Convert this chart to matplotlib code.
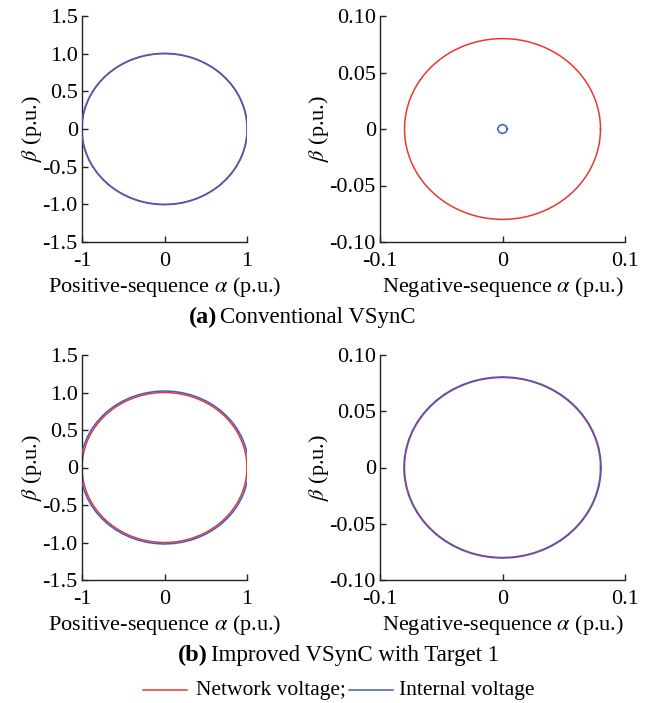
import numpy as np
import matplotlib
matplotlib.use("Agg")
import matplotlib.pyplot as plt
from matplotlib.lines import Line2D

plt.rcParams['font.family'] = ['Liberation Serif', 'DejaVu Serif']
plt.rcParams['mathtext.fontset'] = 'stix'

# ---- data (radii, p.u.) ----
pos_network_radius_a = 1.0
pos_internal_radius_a = 1.005
neg_network_radius_a = 0.080
neg_internal_radius_a = 0.004
pos_network_radius_b = 1.0
pos_internal_radius_b = 1.02
neg_network_radius_b = 0.080
neg_internal_radius_b = 0.0805
# number of samples in the recorded trajectories
network_samples = 200
internal_samples = 60
small_internal_samples = 8

pos_ticks = [-1.5, -1.0, -0.5, 0, 0.5, 1.0, 1.5]
pos_ticklabels = ['-1.5', '-1.0', '-0.5', '0', '0.5', '1.0', '1.5']
pos_xticks = [-1, 0, 1]
pos_xticklabels = ['-1', '0', '1']
neg_yticks = [-0.10, -0.05, 0, 0.05, 0.10]
neg_yticklabels = ['-0.10', '-0.05', '0', '0.05', '0.10']
neg_xticks = [-0.1, 0, 0.1]
neg_xticklabels = ['-0.1', '0', '0.1']

RED = '#e8392c'
BLUE = '#4659c4'


def circle(r, n):
    th = np.linspace(0, 2 * np.pi, n + 1)
    return r * np.cos(th), r * np.sin(th)


W, H = 648, 703
fig = plt.figure(figsize=(W / 100, H / 100), dpi=100)


def make_ax(l, r, t, b):
    return fig.add_axes([l / W, 1 - b / H, (r - l) / W, (b - t) / H])


TICK_FS = 16
LABEL_FS = 16


def style(ax, xt, xtl, yt, ytl, xlim, ylim, xlabel):
    ax.set_xlim(*xlim)
    ax.set_ylim(*ylim)
    ax.set_xticks(xt)
    ax.set_xticklabels(xtl)
    ax.set_yticks(yt)
    ax.set_yticklabels(ytl)
    for s in ['top', 'right']:
        ax.spines[s].set_visible(False)
    for s in ['left', 'bottom']:
        ax.spines[s].set_linewidth(1.0)
        ax.spines[s].set_color('#222222')
    ax.tick_params(direction='in', length=4, width=1.0, labelsize=TICK_FS,
                   colors='#222222', labelcolor='black')
    ax.tick_params(axis='y', pad=3)
    ax.tick_params(axis='x', pad=7)
    ax.set_xlabel(xlabel, fontsize=LABEL_FS, labelpad=3)
    ax.set_ylabel(r'$\beta$ (p.u.)', fontsize=LABEL_FS, labelpad=-1)


panels = [
    (16, 242, pos_network_radius_a, pos_internal_radius_a, neg_network_radius_a, neg_internal_radius_a, small_internal_samples),
    (355, 580, pos_network_radius_b, pos_internal_radius_b, neg_network_radius_b, neg_internal_radius_b, internal_samples),
]

LW = 1.1
for top, bot, pn, pi, nn, ni, nsamp in panels:
    ax1 = make_ax(82, 247, top, bot)
    x, y = circle(pn, network_samples)
    ax1.plot(x, y, color=RED, lw=LW, zorder=2)
    x, y = circle(pi, internal_samples)
    ax1.plot(x, y, color=BLUE, lw=LW, zorder=3 if pi > pn else 1)
    style(ax1, pos_xticks, pos_xticklabels, pos_ticks, pos_ticklabels,
          (-1, 1), (-1.5, 1.5), r'Positive-sequence $\alpha$ (p.u.)')

    ax2 = make_ax(380, 625, top, bot)
    x, y = circle(nn, network_samples)
    ax2.plot(x, y, color=RED, lw=LW, zorder=2)
    x, y = circle(ni, nsamp)
    ax2.plot(x, y, color=BLUE, lw=LW, zorder=3)
    style(ax2, neg_xticks, neg_xticklabels, neg_yticks, neg_yticklabels,
          (-0.1, 0.1), (-0.1, 0.1), r'Negative-sequence $\alpha$ (p.u.)')

# captions
def caption(xpx, ypx, letter, text):
    t = fig.text(xpx / W, 1 - ypx / H, letter, fontsize=17.5, fontweight='bold',
                 ha='left', va='center')
    fig.canvas.draw()
    bb = t.get_window_extent()
    fig.text((bb.x1 + 3) / W, 1 - ypx / H, text, fontsize=16.5,
             ha='left', va='center')

caption(189, 317, '(a)', 'Conventional VSynC')
caption(178, 655, '(b)', 'Improved VSynC with Target 1')

# legend
LEG_FS = 15.5
ly = 1 - 690 / H
fig.add_artist(Line2D([143 / W, 187 / W], [ly, ly], color=RED, lw=LW))
fig.text(196 / W, ly, 'Network voltage;', fontsize=LEG_FS, ha='left', va='center')
fig.add_artist(Line2D([349 / W, 393 / W], [ly, ly], color=BLUE, lw=LW))
fig.text(399 / W, ly, 'Internal voltage', fontsize=LEG_FS, ha='left', va='center')

fig.savefig('out.png', dpi=100)
